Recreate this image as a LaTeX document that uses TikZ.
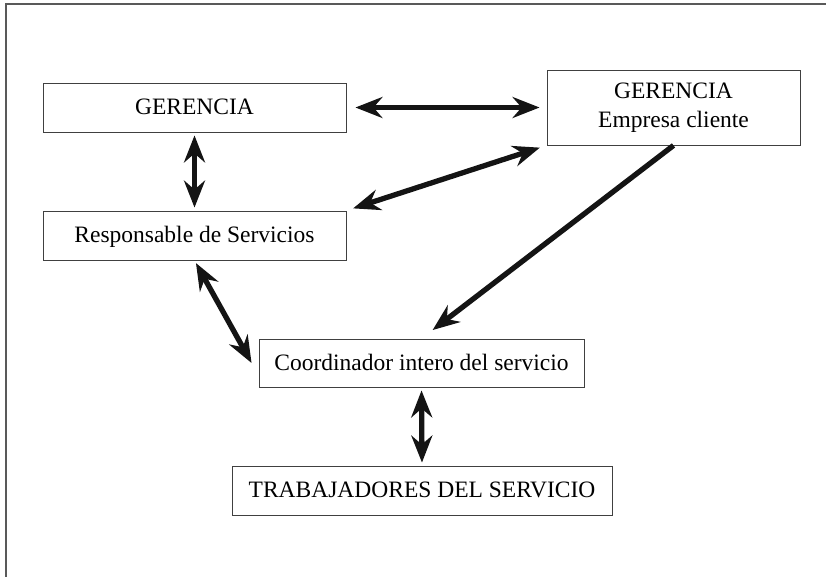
\documentclass[tikz,border=0pt]{standalone}
\usepackage{fontspec}
\setmainfont{Liberation Serif}
\usepackage{tikz}
\usetikzlibrary{arrows.meta,positioning}

\begin{document}
\begin{tikzpicture}[x=1pt,y=-1pt]
                \tikzstyle{every node}+=[inner sep=0pt]
                \tikzstyle{caja}=[draw=black!75, line width=0.9pt, align=center,
                    font=\fontsize{23.5}{29}\selectfont, minimum height=49pt]
                \tikzstyle{linea}=[text height=14pt, text depth=0pt]
                \tikzstyle{flecha}=[black!92, line width=5.3pt,
                    {Stealth[length=27pt,width=21pt,inset=9pt]}-{Stealth[length=27pt,width=21pt,inset=9pt]}]
                \tikzstyle{flechauna}=[black!92, line width=5.3pt,
                    -{Stealth[length=27pt,width=21pt,inset=9pt]}]
                \useasboundingbox (0,0) rectangle (826,576);
                \draw [black!65, line width=1.5pt] (6,580) -- (6,4) -- (830,4);
                \node [caja, linea, minimum width=303pt] (ger) at (194.5,107.5) {GERENCIA};
                \node [caja, minimum width=253pt, minimum height=75pt] (emp) at (673.5,107.5) {GERENCIA\\Empresa cliente};
                \node [caja, linea, minimum width=303pt] (resp) at (194.5,235.5) {Responsable de Servicios};
                \node [caja, linea, minimum width=325pt, minimum height=48pt] (coord) at (421.5,363) {Coordinador intero del servicio};
                \node [caja, linea, minimum width=380pt] (trab) at (422,490.5) {TRABAJADORES DEL SERVICIO};
                \draw [flecha, shorten <=9pt, shorten >=7pt] (ger.east) -- (emp.west);
                \draw [flecha, shorten <=3pt, shorten >=3pt] (ger.south) -- (resp.north);
                \draw [flecha, shorten <=7pt, shorten >=7pt] (resp.north east) -- (emp.south west);
                \draw [flechauna, shorten >=14pt] (emp.south) -- (coord.north);
                \draw [flecha, shorten <=3pt] (resp.south) -- ([xshift=-7pt]coord.west);
                \draw [flecha, shorten <=3pt, shorten >=3pt] (coord.south) -- (trab.north);
            \end{tikzpicture}
\end{document}
